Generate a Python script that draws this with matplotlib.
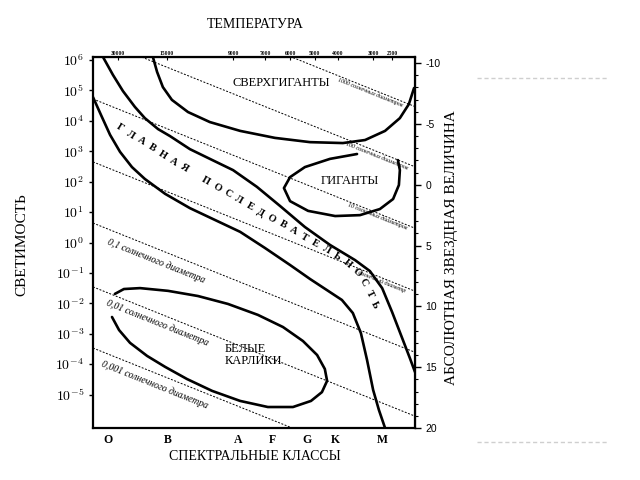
import matplotlib.pyplot as plt
import numpy as np
from matplotlib.lines import Line2D

plt.rcParams['font.family'] = ['Liberation Serif', 'DejaVu Serif']
plt.rcParams['mathtext.fontset'] = 'cm'
plt.rcParams['axes.unicode_minus'] = False

# x: position along the spectral axis (0..100 across the frame), y: log10(L / Lsun)
spec_classes = ['O', 'B', 'A', 'F', 'G', 'K', 'M']
spec_pos = [4.7, 23.3, 45.0, 55.6, 66.5, 75.2, 89.8]

temps = ['30000', '15000', '9000', '7000', '6000', '5000', '4000', '3000', '2500']
temp_pos = [7.8, 23.0, 43.5, 53.4, 61.2, 68.9, 76.1, 87.0, 92.9]

lum_exp = list(range(-5, 7))
mag_major = [-10, -5, 0, 5, 10, 15, 20]
mag_minor = list(range(-10, 21))

# lines of constant radius, log L at left and right edge of the frame
radius_names = ['0,001 солнечного диаметра', '0,01 солнечного диаметра',
                '0,1 солнечного диаметра', '1 солнечный диаметр',
                '10 солнечных диаметров', '100 солнечных диаметров',
                '1000 солнечных диаметров']
radius_left = [-3.47, -1.46, 0.64, 2.65, 4.72, 6.74, 8.72]
radius_right = [-7.72, -5.71, -3.61, -1.60, 0.47, 2.49, 4.47]

# region outlines
ms_upper_x = [3.1, 6.2, 9.3, 13.0, 16.1, 20.2, 23.9, 30.1, 36.3, 43.5, 50.9, 58.1,
              65.8, 73.6, 81.4, 86.0, 89.8, 92.9, 96.0, 98.4, 100.0]
ms_upper_y = [6.10, 5.51, 4.98, 4.46, 4.09, 3.73, 3.50, 3.07, 2.75, 2.38, 1.83, 1.20,
              0.51, -0.08, -0.58, -0.94, -1.50, -2.29, -3.14, -3.80, -4.26]

ms_lower_x = [0.0, 2.5, 5.3, 8.4, 12.1, 16.1, 22.4, 30.1, 37.9, 45.7, 53.4, 61.2,
              67.4, 73.0, 77.3, 80.7, 83.2, 85.1, 87.0, 88.8, 90.7]
ms_lower_y = [4.78, 4.19, 3.54, 2.98, 2.48, 2.09, 1.60, 1.13, 0.74, 0.35, -0.18, -0.74,
              -1.20, -1.59, -1.89, -2.32, -2.98, -3.86, -4.85, -5.51, -6.10]

sg_x = [18.6, 19.9, 21.7, 24.5, 29.5, 36.3, 45.7, 56.5, 67.4, 77.6, 84.5, 90.7,
        95.3, 98.1, 99.7]
sg_y = [6.10, 5.61, 5.11, 4.69, 4.29, 3.96, 3.67, 3.44, 3.30, 3.27, 3.37, 3.67,
        4.09, 4.55, 5.08]

giant_x = [82.0, 73.6, 65.8, 61.2, 59.3, 61.2, 66.8, 75.2, 82.9, 89.1, 93.2, 95.0,
           95.3, 94.7]
giant_y = [2.91, 2.75, 2.48, 2.15, 1.79, 1.36, 1.04, 0.87, 0.90, 1.10, 1.43, 1.89,
           2.38, 2.71]

wd_x = [5.9, 8.1, 11.5, 16.8, 22.4, 29.2, 37.0, 45.7, 54.3, 62.1, 67.7, 71.1, 72.7,
        72.0, 69.6, 65.2, 59.0, 51.2, 41.9, 32.6, 23.3, 14.6, 9.6, 6.8]
wd_y = [-2.45, -2.88, -3.30, -3.73, -4.09, -4.49, -4.88, -5.21, -5.41, -5.41, -5.21,
        -4.92, -4.55, -4.16, -3.70, -3.24, -2.78, -2.38, -2.02, -1.76, -1.59, -1.50,
        -1.53, -1.69]

fig = plt.figure(figsize=(6.4, 4.8), dpi=100)
ax = fig.add_axes([93 / 640, 1 - 428 / 480, 322 / 640, 371 / 480])
ax.set_xlim(0, 100)
ax.set_ylim(-6.1, 6.1)
for sp in ax.spines.values():
    sp.set_linewidth(1.6)

# constant radius lines + their labels
label_pos = [(19.3, -4.69), (19.9, -2.65), (19.6, -0.61), (89.1, -1.27),
             (88.5, 0.87), (88.2, 2.84), (86.0, 4.95)]
for i, name in enumerate(radius_names):
    ax.plot([0, 100], [radius_left[i], radius_right[i]], color='k', lw=0.7,
            ls=(0, (2, 1.6)))
    p0 = ax.transData.transform((0, radius_left[i]))
    p1 = ax.transData.transform((100, radius_right[i]))
    ang = np.degrees(np.arctan2(p1[1] - p0[1], p1[0] - p0[0]))
    small = i >= 3
    ax.text(label_pos[i][0], label_pos[i][1], name, rotation=ang,
            rotation_mode='anchor', ha='center', va='center',
            fontsize=4.3 if small else 7, style='italic')

for xs, ys in [(ms_upper_x, ms_upper_y), (ms_lower_x, ms_lower_y), (sg_x, sg_y),
               (giant_x, giant_y), (wd_x, wd_y)]:
    ax.plot(xs, ys, color='k', lw=1.9, solid_capstyle='round')

ax.text(58.4, 5.25, 'СВЕРХГИГАНТЫ', ha='center', va='center', fontsize=9)
ax.text(79.8, 2.02, 'ГИГАНТЫ', ha='center', va='center', fontsize=9)
ax.text(41.0, -3.70, 'БЕЛЫЕ\nКАРЛИКИ', ha='left', va='center', fontsize=9,
        linespacing=1.1)

# "main sequence" lettered along the band
ms_path_x = [8.4, 30.1, 64.3, 76.7, 82.9, 87.6]
ms_path_y = [3.77, 2.32, 0.25, -0.51, -1.07, -2.06]
pts = ax.transData.transform(np.column_stack([ms_path_x, ms_path_y]))
seg = np.hypot(*np.diff(pts, axis=0).T)
cum = np.concatenate([[0], np.cumsum(seg)])
letters = 'ГЛАВНАЯ ПОСЛЕДОВАТЕЛЬНОСТЬ'
inv = ax.transData.inverted()
for i, ch in enumerate(letters):
    if ch == ' ':
        continue
    s = cum[-1] * i / (len(letters) - 1)
    k = min(np.searchsorted(cum, s, side='right') - 1, len(seg) - 1)
    px = np.interp(s, cum, pts[:, 0])
    py = np.interp(s, cum, pts[:, 1])
    d = pts[k + 1] - pts[k]
    ang = np.degrees(np.arctan2(d[1], d[0]))
    x, y = inv.transform((px, py))
    ax.text(x, y, ch, rotation=ang, rotation_mode='anchor', ha='center',
            va='center', fontsize=7.5, fontweight='bold')

# axes
ax.set_yticks(lum_exp, [f'$10^{{{e}}}$' for e in lum_exp])
ax.tick_params(axis='y', direction='out', length=3, width=1, labelsize=10)
ax.set_xticks(spec_pos, spec_classes)
ax.tick_params(axis='x', length=0, pad=4, labelsize=8.5)
for t in ax.get_xticklabels():
    t.set_fontweight('bold')

top = ax.secondary_xaxis('top')
top.set_xticks(temp_pos, temps)
top.tick_params(direction='in', length=2, width=0.8, pad=1, labelsize=4)
for t in top.get_xticklabels():
    t.set_fontweight('bold')

mag = ax.secondary_yaxis('right', functions=(lambda y: 4.75 - 2.5 * y,
                                             lambda m: (4.75 - m) / 2.5))
mag.set_yticks(mag_major, [str(m) for m in mag_major])
mag.set_yticks(mag_minor, minor=True)
mag.tick_params(which='major', direction='out', length=4, width=1, labelsize=7.5,
                labelfontfamily='Liberation Sans')
mag.tick_params(which='minor', direction='out', length=2.5, width=0.8)

fig.text(255 / 640, 1 - 25 / 480, 'ТЕМПЕРАТУРА', ha='center', va='center', fontsize=10)
fig.text(255 / 640, 1 - 456 / 480, 'СПЕКТРАЛЬНЫЕ КЛАССЫ', ha='center', va='center',
         fontsize=10)
fig.text(22 / 640, 1 - 245 / 480, 'СВЕТИМОСТЬ', rotation=90, ha='center',
         va='center', fontsize=11)
fig.text(452 / 640, 1 - 248 / 480, 'АБСОЛЮТНАЯ ЗВЕЗДНАЯ ВЕЛИЧИНА', rotation=90,
         ha='center', va='center', fontsize=11)

# faint page decoration on the right
for yy in [78, 442]:
    fig.add_artist(Line2D([477 / 640, 607 / 640], [1 - yy / 480] * 2,
                          color='#cfcfcf', lw=1, ls=(0, (3, 2))))

fig.savefig('out.png', dpi=100)
